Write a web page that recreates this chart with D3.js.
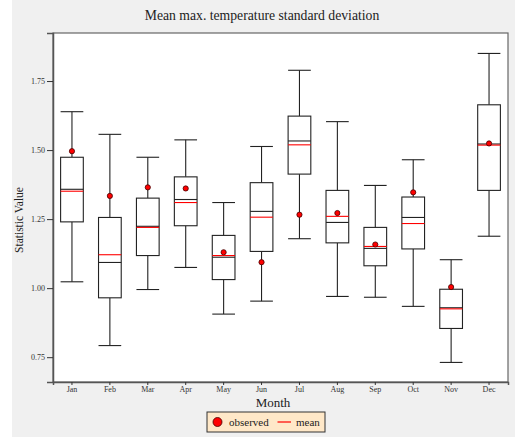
<!DOCTYPE html>
<html><head><meta charset="utf-8">
<script src="https://cdn.jsdelivr.net/npm/d3@7"></script>
<style>body{margin:0;background:#fff}svg{display:block}</style>
</head><body>
<script>
const months = ["Jan","Feb","Mar","Apr","May","Jun","Jul","Aug","Sep","Oct","Nov","Dec"];
const whiskerHigh = [1.639,1.557,1.474,1.537,1.310,1.513,1.789,1.603,1.372,1.465,1.103,1.850];
const q3 =          [1.474,1.256,1.326,1.403,1.191,1.382,1.623,1.354,1.220,1.330,0.996,1.664];
const median =      [1.358,1.093,1.224,1.321,1.112,1.278,1.533,1.238,1.144,1.256,0.929,1.522];
const mean =        [1.351,1.121,1.220,1.310,1.118,1.257,1.519,1.260,1.151,1.234,0.925,1.518];
const q1 =          [1.240,0.965,1.118,1.226,1.031,1.133,1.413,1.164,1.081,1.142,0.854,1.354];
const whiskerLow =  [1.023,0.792,0.995,1.075,0.906,0.953,1.179,0.970,0.967,0.934,0.731,1.188];
const observed =    [1.496,1.334,1.365,1.361,1.130,1.094,1.266,1.272,1.158,1.347,1.004,1.524];
const yTicks = [0.75,1.00,1.25,1.50,1.75];

const W=515,H=437;
const svg=d3.select("body").append("svg").attr("width",W).attr("height",H);
svg.append("rect").attr("x",12).attr("y",0).attr("width",W-12).attr("height",H).attr("fill","#f0f0f0");
const L=53,R=508,T=33,B=382;
const x=d3.scaleBand().domain(months).range([L,R]).padding(0);
const y=d3.scaleLinear().domain([0.6601,1.924]).range([B,T]);
svg.append("rect").attr("x",L).attr("y",T).attr("width",R-L).attr("height",B-T).attr("fill","#fff").attr("stroke","#666").attr("stroke-width",1.2);

const serif="'Liberation Serif','Times New Roman',serif";
svg.append("text").attr("x",262).attr("y",20).attr("text-anchor","middle").attr("font-family",serif).attr("font-size",13.7).attr("fill","#222").text("Mean max. temperature standard deviation");

const yAxis=svg.append("g").attr("transform",`translate(${L},0)`).call(d3.axisLeft(y).tickValues(yTicks).tickFormat(d3.format(".2f")).tickSize(6).tickPadding(2));
const xAxis=svg.append("g").attr("transform",`translate(0,${B})`).call(d3.axisBottom(x).tickSize(3).tickPadding(1.5));
[yAxis,xAxis].forEach(g=>{g.selectAll("text").attr("font-family",serif).attr("font-size",8).attr("fill","#333");
 g.selectAll("line").attr("stroke","#333");g.select(".domain").attr("stroke","#555").attr("stroke-width",1.5);});

svg.append("text").attr("transform","translate(23,220) rotate(-90)").attr("text-anchor","middle").attr("font-family",serif).attr("font-size",11.5).attr("fill","#222").text("Statistic Value");
svg.append("text").attr("x",273).attr("y",407).attr("text-anchor","middle").attr("font-family",serif).attr("font-size",13).attr("fill","#222").text("Month");

const bw=22.7;
const data=months.map((m,i)=>({m,hi:whiskerHigh[i],q3:q3[i],med:median[i],mean:mean[i],q1:q1[i],lo:whiskerLow[i],obs:observed[i]}));
const g=svg.append("g");
data.forEach(d=>{
  const cx=x(d.m)+x.bandwidth()/2;
  const gg=g.append("g").attr("stroke","#222").attr("stroke-width",1.1).attr("fill","none");
  gg.append("line").attr("x1",cx).attr("x2",cx).attr("y1",y(d.hi)).attr("y2",y(d.q3));
  gg.append("line").attr("x1",cx).attr("x2",cx).attr("y1",y(d.q1)).attr("y2",y(d.lo));
  gg.append("line").attr("x1",cx-bw/2).attr("x2",cx+bw/2).attr("y1",y(d.hi)).attr("y2",y(d.hi));
  gg.append("line").attr("x1",cx-bw/2).attr("x2",cx+bw/2).attr("y1",y(d.lo)).attr("y2",y(d.lo));
  gg.append("rect").attr("x",cx-bw/2).attr("width",bw).attr("y",y(d.q3)).attr("height",y(d.q1)-y(d.q3)).attr("fill","#fff");
  gg.append("line").attr("x1",cx-bw/2).attr("x2",cx+bw/2).attr("y1",y(d.med)).attr("y2",y(d.med));
  gg.append("line").attr("x1",cx-bw/2).attr("x2",cx+bw/2).attr("y1",y(d.mean)).attr("y2",y(d.mean)).attr("stroke","#ff0000");
  g.append("circle").attr("cx",cx).attr("cy",y(d.obs)).attr("r",2.6).attr("fill","#ff0000").attr("stroke","#400").attr("stroke-width",0.8);
});

const lg=svg.append("g");
lg.append("rect").attr("x",207).attr("y",412).attr("width",118).attr("height",20).attr("fill","#ffe8c8").attr("stroke","#333").attr("stroke-width",1);
lg.append("circle").attr("cx",217.5).attr("cy",422).attr("r",4.5).attr("fill","#ff0000").attr("stroke","#400").attr("stroke-width",0.8);
lg.append("text").attr("x",229).attr("y",426).attr("font-family",serif).attr("font-size",11).attr("fill","#222").text("observed");
lg.append("line").attr("x1",277.5).attr("x2",291).attr("y1",422).attr("y2",422).attr("stroke","#ff0000").attr("stroke-width",1.2);
lg.append("text").attr("x",296).attr("y",426).attr("font-family",serif).attr("font-size",11).attr("fill","#222").text("mean");
</script>
</body></html>
